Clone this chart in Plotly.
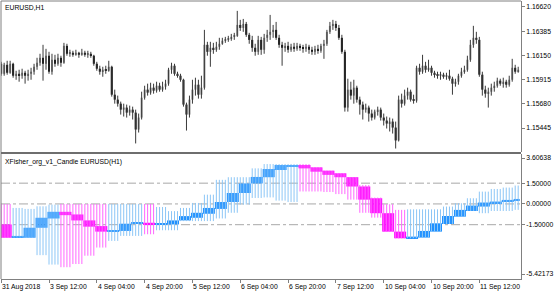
import plotly.graph_objects as go

# ---------------- data: EURUSD H1 ----------------
price_close = [1.15972, 1.16059, 1.15982, 1.16069, 1.15953, 1.15972, 1.15953, 1.15982, 1.15953, 1.15972,
               1.15992, 1.16040, 1.16079, 1.16127, 1.16069, 1.16147, 1.15992, 1.16108, 1.16069, 1.16127,
               1.16079, 1.16243, 1.16166, 1.16176, 1.16156, 1.16176, 1.16156, 1.16176, 1.16156, 1.16166,
               1.16147, 1.16069, 1.16021, 1.15992, 1.16011, 1.16001, 1.16040, 1.15769, 1.15721, 1.15682,
               1.15624, 1.15644, 1.15595, 1.15624, 1.15595, 1.15431, 1.15547, 1.15740, 1.15818, 1.15789,
               1.15837, 1.15808, 1.15856, 1.15818, 1.15847, 1.15876, 1.16011, 1.16050, 1.15972, 1.15953,
               1.15914, 1.15673, 1.15576, 1.15721, 1.15818, 1.15866, 1.15769, 1.15837, 1.16253, 1.16185,
               1.16224, 1.16205, 1.16234, 1.16263, 1.16292, 1.16301, 1.16311, 1.16330, 1.16340, 1.16446,
               1.16417, 1.16456, 1.16350, 1.16301, 1.16224, 1.16185, 1.16301, 1.16205, 1.16321, 1.16350,
               1.16379, 1.16398, 1.16321, 1.16253, 1.16224, 1.16243, 1.16205, 1.16234, 1.16214, 1.16243,
               1.16224, 1.16214, 1.16234, 1.16205, 1.16185, 1.16214, 1.16195, 1.16243, 1.16263, 1.16379,
               1.16437, 1.16456, 1.16417, 1.16321, 1.16185, 1.15644, 1.15818, 1.15760, 1.15837, 1.15721,
               1.15673, 1.15624, 1.15644, 1.15586, 1.15547, 1.15605, 1.15624, 1.15547, 1.15518, 1.15489,
               1.15508, 1.15450, 1.15325, 1.15721, 1.15682, 1.15760, 1.15798, 1.15721, 1.15711, 1.16030,
               1.15992, 1.16050, 1.16011, 1.16030, 1.15982, 1.15963, 1.15953, 1.15963, 1.15943, 1.15953,
               1.15924, 1.15876, 1.15895, 1.15953, 1.15992, 1.16011, 1.16108, 1.16253, 1.16321, 1.16301,
               1.15963, 1.15818, 1.15779, 1.15798, 1.15837, 1.15856, 1.15905, 1.15876, 1.15895, 1.15866,
               1.15914, 1.16030, 1.15992, 1.16011]

price_open = [1.16069, 1.15972, 1.16059, 1.15982, 1.16069, 1.15953, 1.15972, 1.15953, 1.15982, 1.15953,
              1.15972, 1.15992, 1.16040, 1.16079, 1.16127, 1.16069, 1.16147, 1.15992, 1.16108, 1.16069,
              1.16127, 1.16079, 1.16243, 1.16166, 1.16176, 1.16156, 1.16176, 1.16156, 1.16176, 1.16156,
              1.16166, 1.16147, 1.16069, 1.16021, 1.15992, 1.16011, 1.16001, 1.16040, 1.15769, 1.15721,
              1.15682, 1.15624, 1.15644, 1.15595, 1.15624, 1.15595, 1.15431, 1.15547, 1.15740, 1.15818,
              1.15789, 1.15837, 1.15808, 1.15856, 1.15818, 1.15847, 1.15876, 1.16011, 1.16050, 1.15972,
              1.15953, 1.15914, 1.15673, 1.15576, 1.15721, 1.15818, 1.15866, 1.15769, 1.15837, 1.16253,
              1.16185, 1.16224, 1.16205, 1.16234, 1.16263, 1.16292, 1.16301, 1.16311, 1.16330, 1.16340,
              1.16446, 1.16417, 1.16456, 1.16350, 1.16301, 1.16224, 1.16185, 1.16301, 1.16205, 1.16321,
              1.16350, 1.16379, 1.16398, 1.16321, 1.16253, 1.16224, 1.16243, 1.16205, 1.16234, 1.16214,
              1.16243, 1.16224, 1.16214, 1.16234, 1.16205, 1.16185, 1.16214, 1.16195, 1.16243, 1.16263,
              1.16379, 1.16437, 1.16456, 1.16417, 1.16321, 1.16185, 1.15644, 1.15818, 1.15760, 1.15837,
              1.15721, 1.15673, 1.15624, 1.15644, 1.15586, 1.15547, 1.15605, 1.15624, 1.15547, 1.15518,
              1.15489, 1.15508, 1.15450, 1.15325, 1.15721, 1.15682, 1.15760, 1.15798, 1.15721, 1.15711,
              1.16030, 1.15992, 1.16050, 1.16011, 1.16030, 1.15982, 1.15963, 1.15953, 1.15963, 1.15943,
              1.15953, 1.15924, 1.15876, 1.15895, 1.15953, 1.15992, 1.16011, 1.16108, 1.16253, 1.16321,
              1.16301, 1.15963, 1.15818, 1.15779, 1.15798, 1.15837, 1.15856, 1.15905, 1.15876, 1.15895,
              1.15866, 1.15914, 1.16030, 1.15992]

price_high = [1.16088, 1.16079, 1.16098, 1.16098, 1.16079, 1.16001, 1.16011, 1.16021, 1.16001, 1.16011,
              1.16030, 1.16069, 1.16127, 1.16166, 1.16253, 1.16214, 1.16185, 1.16166, 1.16156, 1.16166,
              1.16147, 1.16272, 1.16263, 1.16205, 1.16195, 1.16205, 1.16185, 1.16214, 1.16195, 1.16195,
              1.16185, 1.16156, 1.16088, 1.16050, 1.16040, 1.16050, 1.16098, 1.16050, 1.15818, 1.15760,
              1.15702, 1.15682, 1.15673, 1.15663, 1.15653, 1.15624, 1.15586, 1.15798, 1.15856, 1.15876,
              1.15885, 1.15876, 1.15895, 1.15885, 1.15895, 1.15914, 1.16030, 1.16079, 1.16069, 1.15992,
              1.15972, 1.15924, 1.15692, 1.15760, 1.15914, 1.15934, 1.15914, 1.15953, 1.16398, 1.16282,
              1.16282, 1.16272, 1.16282, 1.16321, 1.16321, 1.16330, 1.16340, 1.16359, 1.16369, 1.16582,
              1.16495, 1.16504, 1.16475, 1.16369, 1.16340, 1.16263, 1.16340, 1.16330, 1.16359, 1.16398,
              1.16543, 1.16446, 1.16475, 1.16350, 1.16282, 1.16272, 1.16282, 1.16263, 1.16272, 1.16272,
              1.16263, 1.16253, 1.16263, 1.16253, 1.16234, 1.16243, 1.16253, 1.16263, 1.16301, 1.16398,
              1.16475, 1.16495, 1.16485, 1.16446, 1.16350, 1.16205, 1.15924, 1.15895, 1.15914, 1.15856,
              1.15750, 1.15702, 1.15682, 1.15663, 1.15624, 1.15624, 1.15653, 1.15644, 1.15586, 1.15557,
              1.15547, 1.15537, 1.15508, 1.15760, 1.15779, 1.15818, 1.15837, 1.15818, 1.15769, 1.16050,
              1.16069, 1.16156, 1.16088, 1.16108, 1.16050, 1.16001, 1.15992, 1.15992, 1.15982, 1.15982,
              1.16011, 1.15943, 1.15924, 1.15972, 1.16030, 1.16050, 1.16147, 1.16301, 1.16437, 1.16379,
              1.16330, 1.15992, 1.15856, 1.15837, 1.15876, 1.15895, 1.15934, 1.15924, 1.15934, 1.15914,
              1.15953, 1.16117, 1.16059, 1.16040]

price_low = [1.15953, 1.15953, 1.15963, 1.15972, 1.15934, 1.15914, 1.15895, 1.15924, 1.15876, 1.15905,
             1.15914, 1.15963, 1.16011, 1.16050, 1.15905, 1.16011, 1.15972, 1.15963, 1.16040, 1.16050,
             1.16040, 1.16069, 1.16147, 1.16137, 1.16137, 1.16147, 1.16127, 1.16147, 1.16137, 1.16127,
             1.16127, 1.16050, 1.16001, 1.15963, 1.15943, 1.15972, 1.15992, 1.15750, 1.15682, 1.15653,
             1.15576, 1.15557, 1.15547, 1.15566, 1.15528, 1.15296, 1.15402, 1.15528, 1.15721, 1.15760,
             1.15769, 1.15779, 1.15789, 1.15798, 1.15798, 1.15818, 1.15856, 1.15972, 1.15953, 1.15934,
             1.15895, 1.15653, 1.15421, 1.15547, 1.15682, 1.15760, 1.15731, 1.15731, 1.15818, 1.16147,
             1.16040, 1.16166, 1.16185, 1.16205, 1.16253, 1.16272, 1.16282, 1.16292, 1.16301, 1.16330,
             1.16388, 1.16379, 1.16330, 1.16263, 1.16185, 1.16147, 1.16156, 1.16156, 1.16166, 1.16282,
             1.16301, 1.16321, 1.16301, 1.16224, 1.16050, 1.16185, 1.16176, 1.16185, 1.16185, 1.16195,
             1.16195, 1.16176, 1.16185, 1.16166, 1.16156, 1.16156, 1.16166, 1.16176, 1.16117, 1.16243,
             1.16359, 1.16398, 1.16388, 1.16301, 1.16166, 1.15605, 1.15605, 1.15721, 1.15682, 1.15692,
             1.15576, 1.15528, 1.15595, 1.15508, 1.15518, 1.15528, 1.15566, 1.15518, 1.15470, 1.15441,
             1.15412, 1.15392, 1.15247, 1.15315, 1.15644, 1.15663, 1.15721, 1.15702, 1.15682, 1.15692,
             1.15963, 1.15972, 1.15982, 1.15992, 1.15953, 1.15934, 1.15924, 1.15914, 1.15924, 1.15914,
             1.15905, 1.15769, 1.15847, 1.15866, 1.15934, 1.15972, 1.15992, 1.16088, 1.16224, 1.16263,
             1.15943, 1.15760, 1.15740, 1.15644, 1.15760, 1.15798, 1.15837, 1.15856, 1.15837, 1.15837,
             1.15847, 1.15895, 1.15972, 1.15982]

# ---------------- data: XFisher_org_v1_Candle (H4 candles shown on H1) ----------------
fisher_open = [-1.48, -2.44, -2.44, -1.72, -1.05, -0.57, -0.76, -1.19, -1.60, -2.00, -1.95, -1.43, -1.36, -1.48,
               -1.48, -1.19, -1.00, -0.71, -0.36, 0.14, 0.79, 1.48, 1.93, 2.45, 2.72, 2.81, 2.64, 2.40, 2.21,
               1.93, 1.26, 0.41, -0.67, -2.00, -2.48, -2.43, -2.00, -1.45, -0.92, -0.51, -0.19, 0.05, 0.17, 0.26]
fisher_close = [-2.44, -2.31, -1.72, -1.00, -0.57, -0.81, -1.19, -1.64, -2.00, -1.90, -1.43, -1.36, -1.48, -1.41,
                -1.19, -0.88, -0.64, -0.29, 0.14, 0.79, 1.48, 1.95, 2.52, 2.81, 2.81, 2.57, 2.33, 2.10, 1.93,
                1.26, 0.31, -0.67, -2.00, -2.48, -2.36, -1.95, -1.40, -0.87, -0.43, -0.12, 0.10, 0.17, 0.29, 0.36]
fisher_high = [0.00, -0.29, -0.36, -0.17, -0.05, 0.00, 0.00, 0.00, 0.00, 0.00, 0.00, 0.00, 0.00, -0.22,
               -0.52, -0.29, 0.07, 0.67, 1.74, 1.93, 1.93, 2.57, 2.88, 2.88, 2.88, 2.88, 2.64, 2.40, 2.21,
               1.93, 1.37, 0.46, -0.02, -0.43, -0.39, -0.39, -0.39, -0.19, 0.05, 0.41, 0.89, 1.08, 1.18, 1.33]
fisher_low = [-2.46, -2.44, -2.44, -3.70, -4.38, -4.57, -4.34, -3.74, -3.15, -2.67, -2.31, -2.31, -2.19, -1.90,
              -1.90, -1.24, -1.24, -1.24, -1.05, -0.64, -0.05, 0.43, 0.47, 0.24, 0.14, 0.90, 0.90, 0.86, 0.71,
              0.31, -0.64, -0.99, -2.00, -2.48, -2.48, -2.43, -2.00, -1.45, -0.92, -0.51, -0.67, -0.51, -0.51, -0.43]
bars_per_h4 = 4

# ---------------- axes labels ----------------
time_tick_index = [0, 16, 32, 48, 64, 80, 96, 112, 128, 144, 160]
time_tick_text = ["31 Aug 2018", "3 Sep 12:00", "4 Sep 04:00", "4 Sep 20:00", "5 Sep 12:00", "6 Sep 04:00",
                  "6 Sep 20:00", "7 Sep 12:00", "10 Sep 04:00", "10 Sep 20:00", "11 Sep 12:00"]
price_ticks = [1.16620, 1.16385, 1.16150, 1.15915, 1.15680, 1.15445]
fisher_levels = [1.5, 0.0, -1.5]
fisher_max, fisher_min = 3.60638, -5.42173
price_range = [1.15213, 1.16678]

FONT = "Liberation Sans"
FS = 6.8
n = len(price_close)
xs = list(range(n))

# pane geometry (paper)
H_PLOT = 278.0
top_dom = [(279 - 152) / H_PLOT, 1.0]
bot_dom = [0.0, (279 - 154) / H_PLOT]

fig = go.Figure()

# ---- price candles ----
wx, wy = [], []
for i in xs:
    wx += [i, i, None]
    wy += [price_low[i], price_high[i], None]
fig.add_trace(go.Scatter(x=wx, y=wy, mode="lines", line=dict(color="#3a3a3a", width=1),
                         xaxis="x", yaxis="y", hoverinfo="skip", showlegend=False))
min_body = 0.0001
body_base = [min(o, c) for o, c in zip(price_open, price_close)]
body_h = [max(abs(c - o), min_body) for o, c in zip(price_open, price_close)]
body_col = ["#8c8c8c" if c > o else "#000000" for o, c in zip(price_open, price_close)]
fig.add_trace(go.Bar(x=xs, y=body_h, base=body_base, width=0.67, marker=dict(color=body_col, line=dict(width=0)),
                     xaxis="x", yaxis="y", hoverinfo="skip", showlegend=False))

# ---- fisher candles ----
f_o = [fisher_open[i // bars_per_h4] for i in xs]
f_c = [fisher_close[i // bars_per_h4] for i in xs]
f_h = [fisher_high[i // bars_per_h4] for i in xs]
f_l = [fisher_low[i // bars_per_h4] for i in xs]
up = [c >= o for o, c in zip(f_o, f_c)]
for is_up, col in [(True, "#8cc6f6"), (False, "#ff66ff")]:
    lx, ly = [], []
    for i in xs:
        if up[i] == is_up:
            lx += [i, i, None]
            ly += [f_l[i], f_h[i], None]
    fig.add_trace(go.Scatter(x=lx, y=ly, mode="lines", line=dict(color=col, width=1),
                             xaxis="x2", yaxis="y2", hoverinfo="skip", showlegend=False))
fb = [min(o, c) for o, c in zip(f_o, f_c)]
fhgt = [max(abs(c - o), 0.09) for o, c in zip(f_o, f_c)]
fcol = ["#1e90ff" if u else "#ff00ff" for u in up]
fig.add_trace(go.Bar(x=xs, y=fhgt, base=fb, width=1.0, marker=dict(color=fcol, line=dict(width=0)),
                     xaxis="x2", yaxis="y2", hoverinfo="skip", showlegend=False))

# ---- level lines ----
shapes = []
for lv in fisher_levels:
    shapes.append(dict(type="line", xref="paper", x0=0, x1=1, yref="y2", y0=lv, y1=lv, layer="below",
                       line=dict(color="#a8a8a8", width=1, dash="dashdot")))
# frame / separator
shapes.append(dict(type="line", xref="paper", yref="paper", x0=0, x1=0, y0=0, y1=1,
                   line=dict(color="#808080", width=1)))
shapes.append(dict(type="line", xref="paper", yref="paper", x0=0, x1=1, y0=1, y1=1,
                   line=dict(color="#808080", width=1)))
shapes.append(dict(type="rect", xref="paper", yref="paper", x0=0, x1=1, y0=bot_dom[1], y1=top_dom[0],
                   fillcolor="#6e6e6e", line=dict(width=0)))

annotations = [
    dict(text="EURUSD,H1", xref="paper", yref="paper", x=0, y=1, xanchor="left", yanchor="top",
         xshift=2, yshift=-1, showarrow=False, font=dict(family=FONT, size=FS, color="#000")),
    dict(text="XFisher_org_v1_Candle EURUSD(H1)", xref="paper", yref="paper", x=0, y=bot_dom[1],
         xanchor="left", yanchor="top", xshift=2, yshift=-2, showarrow=False,
         font=dict(family=FONT, size=FS, color="#000")),
]
for ti, tt in zip(time_tick_index, time_tick_text):
    annotations.append(dict(text=tt, xref="x2", yref="paper", x=ti, y=0, xanchor="left", yanchor="top",
                            xshift=-1, yshift=-2, showarrow=False, font=dict(family=FONT, size=FS, color="#000")))

span = fisher_max - fisher_min
f_tickvals = [fisher_max - 0.032 * span, 1.5, 0.0, -1.5, fisher_min + 0.04 * span]
f_ticktext = ["%.5f" % fisher_max, "1.50000", "0.00000", "-1.50000", "%.5f" % fisher_min]

xr = [-0.06, 173.94]
axis_common = dict(showgrid=False, zeroline=False)
fig.update_layout(
    width=560, height=294, margin=dict(l=1, r=39, t=1, b=15),
    paper_bgcolor="white", plot_bgcolor="white", barmode="overlay", showlegend=False,
    font=dict(family=FONT, size=FS, color="#000"),
    xaxis=dict(domain=[0, 1], range=xr, anchor="y", showticklabels=False, ticks="", showline=False, **axis_common),
    xaxis2=dict(domain=[0, 1], range=xr, anchor="y2", matches="x", tickvals=time_tick_index, ticks="outside",
                ticklen=3, tickcolor="#808080", showticklabels=False, showline=True, linecolor="#808080",
                linewidth=1, **axis_common),
    yaxis=dict(domain=top_dom, range=price_range, anchor="x", side="right", tickvals=price_ticks,
               ticktext=["%.5f" % v for v in price_ticks], ticks="outside", ticklen=3, tickcolor="#808080",
               showline=True, linecolor="#808080", linewidth=1, tickfont=dict(family=FONT, size=FS, color="#000"),
               **axis_common),
    yaxis2=dict(domain=bot_dom, range=[fisher_min, fisher_max], anchor="x2", side="right", tickvals=f_tickvals,
                ticktext=f_ticktext, ticks="outside", ticklen=3, tickcolor="#808080", showline=True,
                linecolor="#808080", linewidth=1, tickfont=dict(family=FONT, size=FS, color="#000"),
                **axis_common),
    shapes=shapes, annotations=annotations,
)

fig.write_html("out.html")
